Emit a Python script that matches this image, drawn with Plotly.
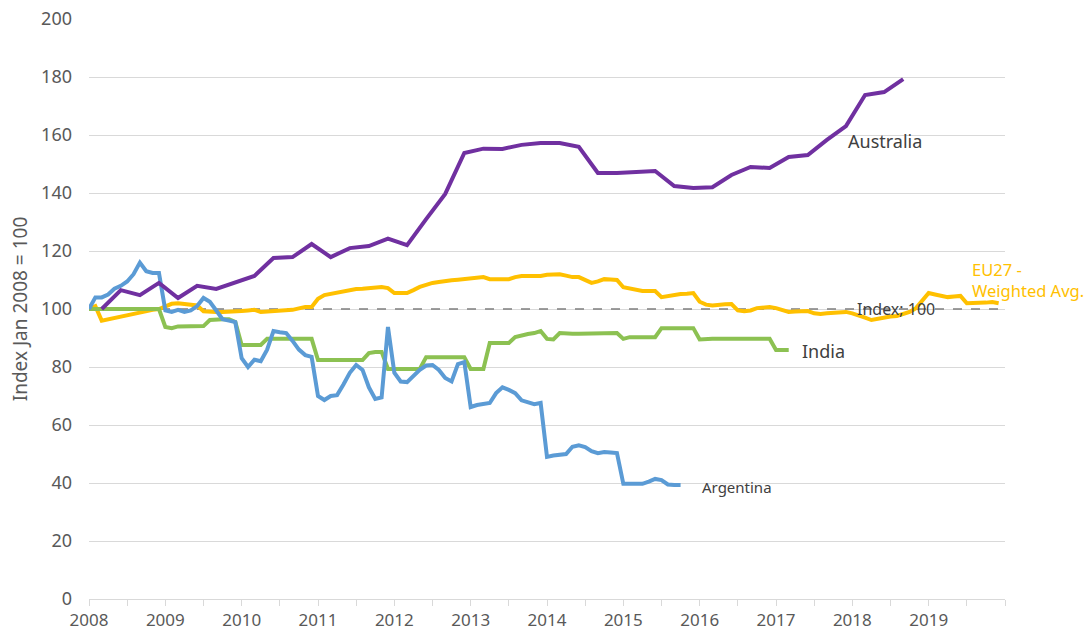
import plotly.graph_objects as go

# Month index 0 = Jan 2008
years = list(range(2008, 2020))

argentina = [100, 104, 104, 105, 107, 108, 109.5, 112, 116, 113, 112.4, 112.4,
             99.5, 99, 99.7, 99, 99.5, 101, 103.8, 102.5, 99.5, 96.5, 96, 95.5,
             83, 80, 82.5, 82, 86, 92.4, 92, 91.7, 89, 86, 84.1, 83.5,
             70, 68.6, 70, 70.3, 74, 78, 80.7, 79, 73, 69, 69.5, 93.8,
             78, 75, 74.8, 77, 79, 80.5, 80.7, 79, 76.2, 75, 81, 81.7,
             66.2, 66.9, 67.3, 67.6, 71, 73, 72.1, 71, 68.5, 67.9, 67.2, 67.6,
             49, 49.5, 49.7, 50, 52.5, 53, 52.4, 51, 50.3, 50.7, 50.5, 50.3,
             39.7, 39.7, 39.7, 39.7, 40.5, 41.4, 41, 39.5, 39.3, 39.3]

india = [100] * 12 + [93.8, 93.4, 94, 94, 94, 94, 94.1, 96.2, 96.5, 96.5, 96.5, 95.5,
         87.6, 87.6, 87.6, 87.6, 89.7, 89.7, 89.7, 89.7, 89.7, 89.7, 89.7, 89.7,
         82.4, 82.4, 82.4, 82.4, 82.4, 82.4, 82.4, 82.4, 84.8, 85.2, 85.2, 79.3,
         79.3, 79.3, 79.3, 79.3, 79.3, 83.4, 83.4, 83.4, 83.4, 83.4, 83.4, 83.4,
         79.3, 79.3, 79.3, 88.3, 88.3, 88.3, 88.3, 90.3, 91, 91.4, 91.7, 92.4,
         89.7, 89.5, 91.7, 91.5, 91.5, 91.5, 91.5, 91.7, 91.7, 91.7, 91.7, 91.7,
         89.7, 90.3, 90.3, 90.3, 90.3, 90.3, 93.4, 93.4, 93.4, 93.4, 93.4, 93.4,
         89.5, 89.7, 89.7, 89.7, 89.7, 89.7, 89.7, 89.7, 89.7, 89.7, 89.7, 89.7,
         85.9, 85.9, 85.9]

australia_months = list(range(2, 129, 3))
australia = [100, 106.5, 104.8, 109, 103.8, 108, 106.9, 109, 111.4, 117.6, 117.9,
             122.4, 117.9, 121, 121.7, 124.3, 122, 131, 139.7, 153.8, 155.3, 155.2,
             156.6, 157.2, 157.2, 155.9, 146.9, 146.9, 147.2, 147.6, 142.4, 141.7,
             142, 146.2, 149, 148.6, 152.4, 153.1, 158.3, 163.1, 173.8, 174.8, 179.3]

eu27 = [100, 101, 96, 96.5, 97, 97.2, 97.8, 98.3, 99, 99.4, 99.7, 100,
        101, 101.8, 102, 101.8, 101.6, 101.2, 99.2, 99, 99, 99, 99, 99.2,
        99.3, 99.5, 99.7, 99, 99.1, 99.2, 99.3, 99.5, 99.7, 100.2, 100.7, 100.7,
        103.5, 104.8, 105.2, 105.8, 106.2, 106.5, 106.9, 107, 107.2, 107.3, 107.6, 107.2,
        105.5, 105.5, 105.5, 106.5, 107.6, 108.3, 109, 109.3, 109.7, 109.9, 110.1, 110.3,
        110.7, 111, 111, 110.3, 110.3, 110.3, 110.3, 111, 111.4, 111.4, 111.4, 111.4,
        111.8, 112, 112, 111.5, 111, 111, 110, 109, 109.5, 110.3, 110.2, 110,
        107.5, 107, 106.5, 106.2, 106.2, 106.2, 104.1, 104.5, 104.8, 105.2, 105.3, 105.5,
        102.5, 101.5, 101.2, 101.5, 101.6, 101.7, 99.5, 99.2, 99.5, 100.3, 100.5, 100.7,
        100.3, 99.5, 99, 99.1, 99.2, 99.3, 98.5, 98.3, 98.5, 98.6, 98.8, 99,
        98.5, 97.6, 97, 96.2, 96.7, 97.2, 97.4, 97.6, 98.2, 99, 100.3, 103,
        105.5, 105, 104.5, 104.1, 104.3, 104.5, 102, 102, 102, 102.2, 102.4, 102]

index_level = 100

C_ARG = "#5B9BD5"
C_IND = "#8CC152"
C_AUS = "#7030A0"
C_EU = "#FFC000"
GRID = "#D9D9D9"
TXT = "#595959"

fig = go.Figure()

fig.add_trace(go.Scatter(x=[0, 144], y=[index_level, index_level], mode="lines",
                         line=dict(color="#7F7F7F", width=1.3, dash="dash"),
                         hoverinfo="skip", showlegend=False))
fig.add_trace(go.Scatter(x=list(range(len(eu27))), y=eu27, mode="lines",
                         line=dict(color=C_EU, width=4), name="EU27 - Weighted Avg."))
fig.add_trace(go.Scatter(x=list(range(len(india))), y=india, mode="lines",
                         line=dict(color=C_IND, width=4), name="India"))
fig.add_trace(go.Scatter(x=list(range(len(argentina))), y=argentina, mode="lines",
                         line=dict(color=C_ARG, width=4), name="Argentina"))
fig.add_trace(go.Scatter(x=australia_months, y=australia, mode="lines",
                         line=dict(color=C_AUS, width=4), name="Australia"))

tickvals = list(range(0, 145, 6))
ticktext = [str(2008 + v // 12) if (v % 12 == 0 and v < 144) else "" for v in tickvals]

font_family = "Noto Sans"

fig.update_layout(
    width=1092, height=635,
    margin=dict(l=89, r=87, t=19, b=36),
    paper_bgcolor="white", plot_bgcolor="white",
    showlegend=False,
    font=dict(family=font_family, color=TXT, size=18),
    xaxis=dict(range=[0, 144], tickmode="array", tickvals=tickvals, ticktext=ticktext,
               ticks="outside", ticklen=6, tickcolor=GRID, showgrid=False,
               showline=True, linecolor=GRID, linewidth=1, zeroline=False,
               tickfont=dict(size=17, color=TXT), automargin=False,
               ticklabeloverflow="allow"),
    yaxis=dict(range=[0, 200], dtick=20, showgrid=True, gridcolor=GRID, gridwidth=1,
               zeroline=False, showline=False, ticks="",
               tickfont=dict(size=18, color=TXT), ticklabelstandoff=16, automargin=False,
               ticklabeloverflow="allow",
               title=dict(text="Index Jan 2008 = 100", font=dict(size=19, color=TXT),
                          standoff=8)),
)

annots = [
    dict(x=119, y=158, text="Australia", xanchor="left", font=dict(size=18, color="#404040")),
    dict(x=111.8, y=85.5, text="India", xanchor="left", font=dict(size=18, color="#404040")),
    dict(x=96, y=38.6, text="Argentina", xanchor="left", font=dict(size=15, color="#404040")),
    dict(x=138.5, y=110, text="EU27 -<br>Weighted Avg.", xanchor="left", align="left",
         font=dict(size=16.5, color=C_EU)),
    dict(x=126.9, y=100, text="Index; 100", xanchor="center", font=dict(size=16, color="#404040")),
]
for a in annots:
    fig.add_annotation(xref="x", yref="y", showarrow=False, **a)

# Remove the page's default body margin so the figure fills the window exactly.
fig.write_html("out.html", config={"displayModeBar": False},
               post_script="document.body.style.margin='0';document.body.style.overflow='hidden';")
